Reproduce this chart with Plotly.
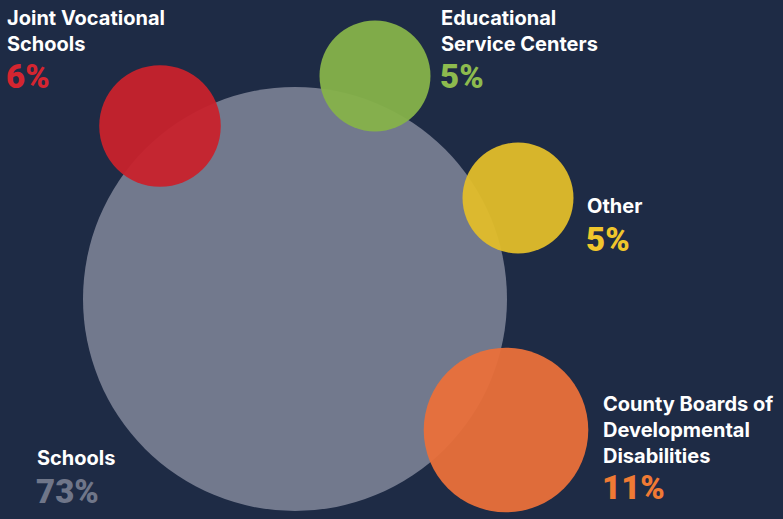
import plotly.graph_objects as go

categories = ["Schools", "Joint Vocational<br>Schools", "Educational<br>Service Centers", "Other",
              "County Boards of<br>Developmental<br>Disabilities"]
shares = [73, 6, 5, 5, 11]
x_pos = [295, 160, 375, 518, 506]
y_pos = [299, 126, 76, 198, 430]
colors = ["#777d91", "#c8222c", "#86b24a", "#e2bd2a", "#ea703a"]
pct_colors = ["#6f7689", "#d42530", "#8dbb4e", "#f0c62c", "#f07a34"]

# label anchor positions (left edge, first-line centre)
label_x = [37, 7, 441, 587, 603]
label_y = [457, 17, 17, 205, 403]

BG = "#1e2b45"
W, H = 783, 519

fig = go.Figure()
fig.add_trace(go.Scatter(
    x=x_pos, y=y_pos, mode="markers",
    marker=dict(size=shares, sizemode="area", sizeref=2 * 73 / (424 ** 2),
                color=colors, opacity=0.95, line=dict(width=0)),
    hoverinfo="skip", showlegend=False,
))

annotations = []
for cat, s, lx, ly, pc in zip(categories, shares, label_x, label_y, pct_colors):
    nlines = cat.count("<br>") + 1
    annotations.append(dict(
        x=lx - 2, y=ly - 13, xref="x", yref="y", text=cat, showarrow=False,
        xanchor="left", yanchor="top", align="left",
        font=dict(family="Inter", size=20, color="white", weight=700),
    ))
    annotations.append(dict(
        x=lx - 3, y=ly + 25 * nlines + 9, xref="x", yref="y", text=f"{s}%", showarrow=False,
        xanchor="left", yanchor="middle", align="left",
        font=dict(family="Roboto", size=33, color=pc, weight=900),
    ))

fig.update_layout(
    width=W, height=H, margin=dict(l=0, r=0, t=0, b=0),
    paper_bgcolor=BG, plot_bgcolor=BG,
    xaxis=dict(range=[0, W], visible=False, fixedrange=True),
    yaxis=dict(range=[H, 0], visible=False, fixedrange=True),
    annotations=annotations,
)
fig.write_html("out.html")
